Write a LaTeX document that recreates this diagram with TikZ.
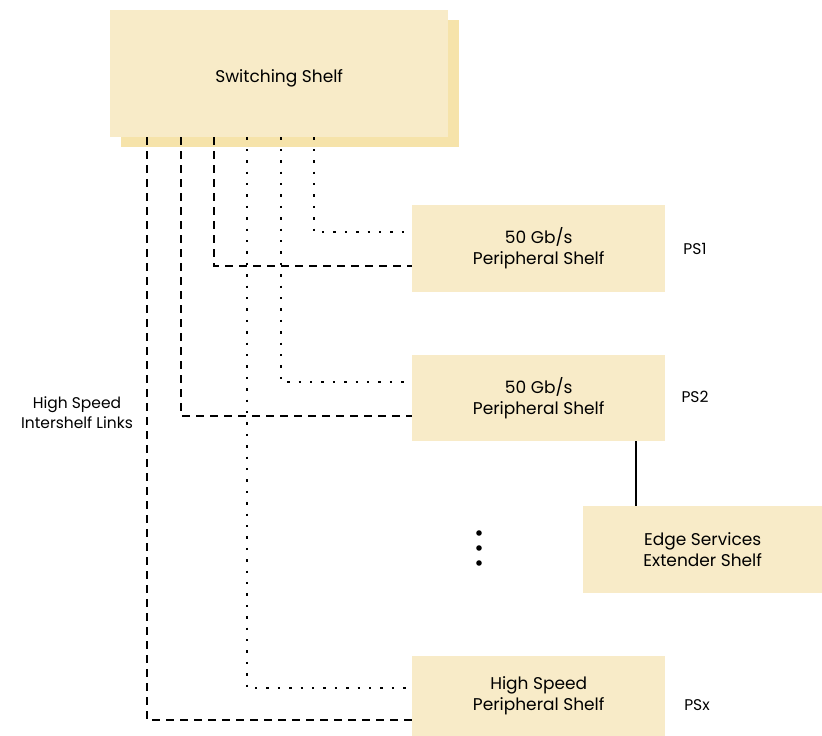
\documentclass[tikz,border=0pt]{standalone}
\usepackage{fontspec}
\setmainfont{Poppins}
\usepackage{xcolor}
\definecolor{shelfFill}{HTML}{F8EBC8}
\definecolor{shelfShadow}{HTML}{F6E3AA}
\usetikzlibrary{calc}

\tikzset{
  shelf/.style={fill=shelfFill, draw=none, anchor=north west, inner sep=0pt,
    align=center, font=\fontsize{17}{21}\selectfont},
  tag/.style={font=\fontsize{15.5}{20}\selectfont, align=center},
  linkdash/.style={line width=2.6pt, dash pattern=on 8pt off 6pt},
  linkdot/.style={line width=2.4pt, dash pattern=on 2.4pt off 9pt}
}

\begin{document}
\begin{tikzpicture}[x=1pt, y=-1pt]
  \useasboundingbox (0,0) rectangle (822,736);
  % switching shelf with its shadow
  \filldraw[fill=shelfShadow, draw=none] (121,20) rectangle (459,147);
  \node[shelf, minimum width=338pt, minimum height=127pt] (sw) at (110,10) {};
  \node[font=\fontsize{17}{21}\selectfont] (swtext) at ($(sw.center)+(0,5)$) {Switching Shelf};

  % peripheral shelves
  \node[shelf, minimum width=253pt, minimum height=87pt] (ps1) at (412,205) {50 Gb/s\\Peripheral Shelf};
  \node[shelf, minimum width=253pt, minimum height=86pt] (ps2) at (412,355) {50 Gb/s\\Peripheral Shelf};
  \node[shelf, minimum width=253pt, minimum height=80pt] (psx) at (412,656) {High Speed\\Peripheral Shelf};
  \node[shelf, minimum width=239pt, minimum height=87pt] (ese) at (583,506) {Edge Services\\Extender Shelf};

  \node[tag] (tag1) at (695,249) {PS1};
  \node[tag] (tag2) at (695,397) {PS2};
  \node[tag] (tagx) at (697,705) {PSx};
  \node[tag] (hsil) at (77,413) {High Speed\\Intershelf Links};

  % intershelf links
  \coordinate (d1) at ($(sw.south west)+(37,0)$);
  \coordinate (d2) at ($(sw.south west)+(71,0)$);
  \coordinate (d3) at ($(sw.south west)+(104,0)$);
  \coordinate (o1) at ($(sw.south west)+(137,0)$);
  \coordinate (o2) at ($(sw.south west)+(171,0)$);
  \coordinate (o3) at ($(sw.south west)+(204,0)$);
  \draw[linkdash] (d1) |- ($(psx.north west)+(0,64)$);
  \draw[linkdash] (d2) |- ($(ps2.north west)+(0,61)$);
  \draw[linkdash] (d3) |- ($(ps1.north west)+(0,61)$);
  \draw[linkdot] (o1) |- ($(psx.north west)+(-6,32)$);
  \draw[linkdot] (o2) |- ($(ps2.north west)+(-6,27)$);
  \draw[linkdot] (o3) |- ($(ps1.north west)+(-6,27)$);

  \draw[line width=2.4pt] (ps2.south -| 636,0) -- (ese.north -| 636,0);

  % more shelves
  \foreach \y in {533,548,563}
    \fill (479,\y) circle (2.8pt);
\end{tikzpicture}
\end{document}
